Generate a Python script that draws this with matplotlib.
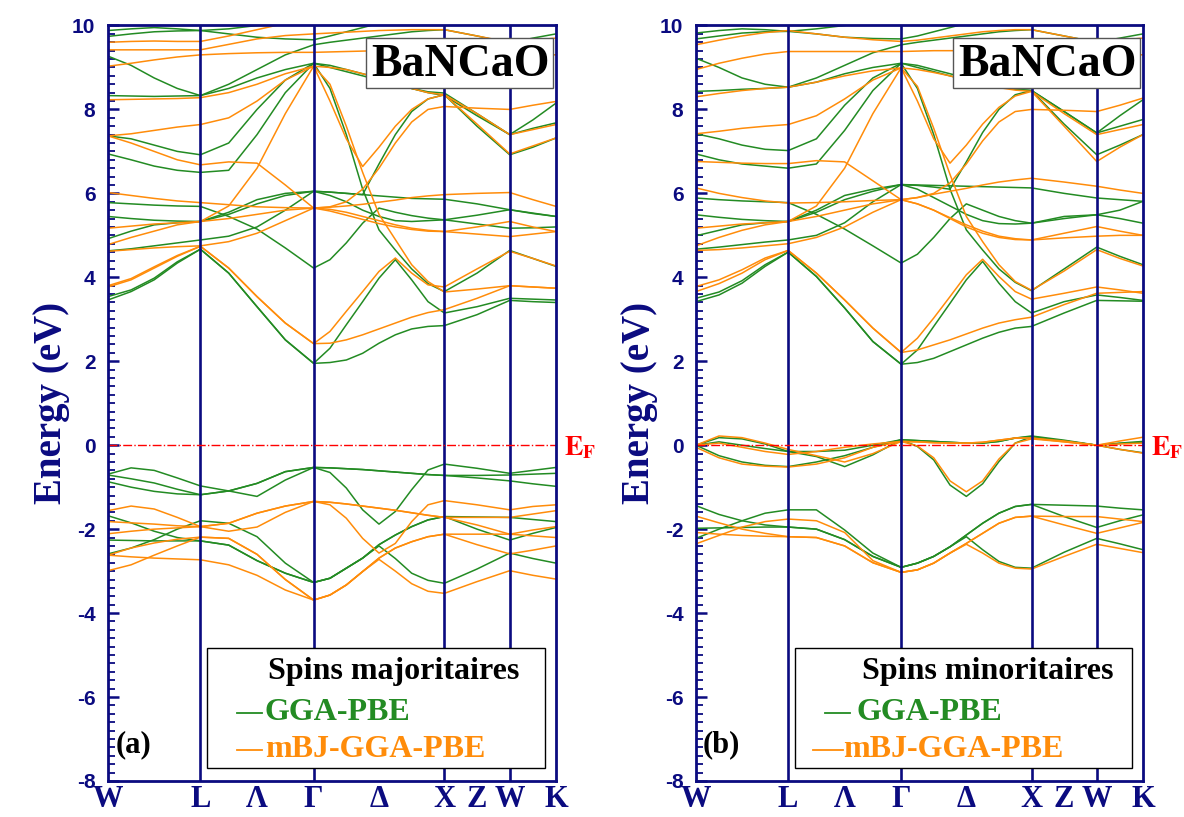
import matplotlib.pyplot as plt
import numpy as np
from matplotlib.patches import Rectangle
from matplotlib.ticker import MultipleLocator

plt.rcParams['font.family'] = ['Liberation Serif', 'DejaVu Serif']
plt.rcParams['mathtext.fontset'] = 'stix'
plt.rcParams['axes.unicode_minus'] = False

# chemin W-L-Γ-X-W-K (distances en 2π/a) et nombre de pas par segment
k_nodes = [0.0, 0.707, 1.573, 2.573, 3.073, 3.427]
k_steps = [4, 4, 8, 2, 2]
k_tick_pos = [0.0, 0.707, 1.140, 1.573, 2.073, 2.573, 2.823, 3.073, 3.427]
k_tick_lab = ['W', 'L', 'Λ', 'Γ', 'Δ', 'X', 'Z', 'W', 'K']

# ---- spins majoritaires : GGA-PBE (énergies en eV sur la grille k) ----
maj_gga = [
    [-0.69, -0.54, -0.60, -0.78, -0.97, -1.09, -1.22, -0.83, -0.53, -0.65, -1.02, -1.54, -1.88, -1.58, -1.06, -0.59, -0.45, -0.55, -0.67, -0.60, -0.53],
    [-0.71, -0.80, -0.90, -1.05, -1.18, -1.09, -0.91, -0.63, -0.53, -0.54, -0.56, -0.58, -0.61, -0.64, -0.67, -0.70, -0.72, -0.72, -0.71, -0.69, -0.67],
    [-0.87, -1.00, -1.10, -1.16, -1.18, -1.09, -0.91, -0.63, -0.53, -0.54, -0.56, -0.58, -0.61, -0.64, -0.67, -0.70, -0.72, -0.78, -0.85, -0.92, -0.98],
    [-1.68, -1.85, -2.05, -2.20, -2.28, -2.38, -2.75, -3.05, -3.27, -3.17, -2.93, -2.69, -2.37, -2.14, -1.94, -1.78, -1.70, -1.71, -1.72, -1.77, -1.82],
    [-2.59, -2.45, -2.25, -2.00, -1.80, -1.86, -2.18, -2.81, -3.27, -3.17, -2.93, -2.69, -2.37, -2.14, -1.94, -1.78, -1.70, -2.00, -2.26, -2.10, -1.96],
    [-2.26, -2.27, -2.28, -2.28, -2.28, -2.38, -2.75, -3.05, -3.27, -3.17, -2.93, -2.69, -2.40, -2.70, -3.05, -3.22, -3.29, -2.95, -2.57, -2.70, -2.81],
    [3.46, 3.66, 3.94, 4.34, 4.67, 4.10, 3.30, 2.51, 1.95, 1.97, 2.03, 2.19, 2.43, 2.63, 2.77, 2.83, 2.85, 3.11, 3.45, 3.42, 3.40],
    [3.54, 3.70, 3.98, 4.37, 4.67, 4.10, 3.30, 2.51, 1.95, 2.31, 2.87, 3.42, 3.98, 4.42, 3.94, 3.42, 3.15, 3.30, 3.50, 3.48, 3.46],
    [4.63, 4.68, 4.75, 4.82, 4.89, 4.98, 5.20, 5.60, 6.05, 6.03, 6.00, 5.97, 5.94, 5.91, 5.88, 5.87, 5.86, 5.75, 5.61, 5.52, 5.45],
    [5.78, 5.75, 5.72, 5.70, 5.69, 5.45, 5.15, 4.70, 4.22, 4.42, 4.82, 5.29, 5.65, 5.55, 5.47, 5.41, 5.37, 5.27, 5.17, 5.18, 5.20],
    [4.92, 5.10, 5.25, 5.30, 5.33, 5.50, 5.75, 5.95, 6.05, 5.95, 5.80, 5.60, 5.45, 5.35, 5.33, 5.35, 5.37, 5.48, 5.61, 5.53, 5.45],
    [5.45, 5.40, 5.36, 5.34, 5.33, 5.55, 5.85, 6.00, 6.05, 6.03, 6.00, 5.97, 6.70, 7.40, 7.95, 8.25, 8.35, 7.60, 6.92, 7.10, 7.32],
    [6.94, 6.80, 6.65, 6.55, 6.50, 6.55, 7.40, 8.40, 9.10, 8.50, 7.40, 6.10, 5.13, 4.65, 4.20, 3.85, 3.66, 4.10, 4.64, 4.45, 4.26],
    [7.37, 7.30, 7.15, 7.00, 6.92, 7.20, 8.00, 8.70, 9.10, 9.00, 8.90, 8.80, 8.70, 8.60, 8.50, 8.42, 8.39, 7.90, 7.40, 7.55, 7.68],
    [8.33, 8.32, 8.31, 8.32, 8.33, 8.50, 8.75, 8.95, 9.10, 9.05, 8.95, 8.85, 8.75, 8.62, 8.50, 8.40, 8.33, 7.85, 7.40, 7.75, 8.15],
    [9.27, 9.05, 8.75, 8.50, 8.33, 8.60, 8.95, 9.30, 9.54, 9.60, 9.65, 9.70, 9.75, 9.80, 9.85, 9.88, 9.90, 9.75, 9.58, 9.70, 9.80],
    [9.74, 9.80, 9.85, 9.87, 9.88, 9.80, 9.72, 9.68, 9.66, 9.75, 9.85, 9.95, 10.05, 10.1, 10.15, 10.2, 10.2, 10.1, 10.0, 10.1, 10.2],
    [9.88, 9.92, 9.95, 9.92, 9.88, 9.92, 10.0, 10.1, 10.2, 10.3, 10.3, 10.3, 10.3, 10.3, 10.3, 10.3, 10.3, 10.2, 10.1, 10.1, 10.1],
]

# ---- spins majoritaires : mBJ-GGA-PBE ----
maj_mbj = [
    [-1.56, -1.45, -1.52, -1.72, -1.94, -2.05, -1.95, -1.60, -1.34, -1.42, -1.74, -2.22, -2.57, -2.34, -1.82, -1.42, -1.32, -1.42, -1.54, -1.46, -1.42],
    [-1.82, -1.85, -1.88, -1.92, -1.94, -1.86, -1.62, -1.45, -1.34, -1.36, -1.40, -1.45, -1.50, -1.55, -1.61, -1.67, -1.72, -1.72, -1.72, -1.64, -1.56],
    [-2.11, -2.05, -2.00, -1.97, -1.94, -1.86, -1.62, -1.45, -1.34, -1.36, -1.40, -1.45, -1.50, -1.55, -1.61, -1.67, -1.72, -1.90, -2.12, -2.16, -2.20],
    [-2.62, -2.45, -2.33, -2.24, -2.19, -2.22, -2.60, -3.20, -3.69, -3.57, -3.33, -3.01, -2.69, -2.45, -2.30, -2.18, -2.12, -2.12, -2.12, -2.02, -1.94],
    [-2.99, -2.85, -2.62, -2.40, -2.19, -2.22, -2.60, -3.20, -3.69, -3.57, -3.33, -3.01, -2.69, -2.45, -2.30, -2.18, -2.12, -2.37, -2.59, -2.50, -2.40],
    [-2.62, -2.66, -2.69, -2.71, -2.73, -2.85, -3.10, -3.45, -3.69, -3.57, -3.33, -3.01, -2.72, -3.00, -3.30, -3.48, -3.53, -3.25, -2.99, -3.10, -3.19],
    [3.77, 3.94, 4.22, 4.50, 4.74, 4.22, 3.54, 2.91, 2.42, 2.43, 2.51, 2.63, 2.77, 2.91, 3.05, 3.16, 3.23, 3.50, 3.80, 3.77, 3.74],
    [3.80, 3.97, 4.25, 4.52, 4.74, 4.22, 3.54, 2.91, 2.42, 2.71, 3.19, 3.66, 4.14, 4.46, 4.10, 3.82, 3.77, 4.20, 4.62, 4.45, 4.27],
    [4.62, 4.66, 4.70, 4.73, 4.75, 4.85, 5.05, 5.35, 5.65, 5.67, 5.70, 5.74, 5.79, 5.84, 5.90, 5.94, 5.97, 6.00, 6.02, 5.85, 5.69],
    [4.78, 4.95, 5.10, 5.25, 5.33, 5.40, 5.50, 5.60, 5.65, 5.62, 5.55, 5.45, 5.35, 5.25, 5.17, 5.12, 5.09, 5.20, 5.33, 5.20, 5.09],
    [5.17, 5.22, 5.27, 5.30, 5.33, 5.70, 6.60, 7.90, 9.03, 8.60, 7.60, 6.50, 5.50, 4.90, 4.30, 3.90, 3.65, 3.72, 3.80, 3.77, 3.74],
    [6.02, 5.95, 5.88, 5.82, 5.78, 5.73, 5.68, 5.66, 5.65, 5.58, 5.48, 5.38, 5.28, 5.20, 5.14, 5.10, 5.09, 5.03, 4.97, 5.03, 5.09],
    [7.37, 7.20, 7.00, 6.80, 6.68, 6.75, 6.72, 6.20, 5.65, 5.68, 5.80, 6.10, 6.60, 7.20, 7.70, 8.00, 8.07, 8.03, 8.00, 8.10, 8.19],
    [7.37, 7.42, 7.50, 7.58, 7.64, 7.80, 8.20, 8.70, 9.03, 8.20, 7.30, 6.64, 7.10, 7.60, 8.00, 8.25, 8.35, 7.90, 7.40, 7.52, 7.64],
    [8.23, 8.24, 8.25, 8.26, 8.28, 8.40, 8.60, 8.85, 9.03, 9.00, 8.95, 8.85, 8.75, 8.62, 8.50, 8.40, 8.35, 7.65, 6.94, 7.13, 7.32],
    [9.03, 9.10, 9.18, 9.25, 9.30, 9.33, 9.35, 9.36, 9.36, 9.37, 9.38, 9.39, 9.40, 9.40, 9.40, 9.40, 9.40, 9.38, 9.35, 9.32, 9.30],
    [9.42, 9.42, 9.42, 9.42, 9.42, 9.55, 9.68, 9.76, 9.80, 9.82, 9.84, 9.86, 9.88, 9.89, 9.90, 9.90, 9.90, 9.75, 9.60, 9.65, 9.70],
    [9.60, 9.62, 9.63, 9.62, 9.62, 9.75, 9.90, 10.05, 10.2, 10.3, 10.3, 10.3, 10.3, 10.3, 10.3, 10.3, 10.3, 10.2, 10.1, 10.1, 10.1],
]

# ---- spins minoritaires : GGA-PBE ----
min_gga = [
    [0.00, 0.18, 0.15, 0.03, -0.15, -0.27, -0.51, -0.23, 0.13, 0.11, 0.09, 0.07, 0.05, 0.05, 0.09, 0.17, 0.22, 0.12, 0.00, 0.05, 0.09],
    [0.00, 0.08, 0.00, -0.08, -0.15, -0.15, -0.12, 0.00, 0.13, -0.03, -0.35, -0.95, -1.22, -0.92, -0.39, 0.05, 0.20, 0.10, 0.00, 0.04, 0.07],
    [0.00, -0.25, -0.40, -0.48, -0.51, -0.40, -0.25, -0.05, 0.13, 0.11, 0.09, 0.07, 0.05, 0.05, 0.09, 0.17, 0.20, 0.10, 0.00, -0.10, -0.18],
    [-1.44, -1.65, -1.80, -1.90, -1.95, -2.00, -2.25, -2.65, -2.91, -2.81, -2.65, -2.42, -2.14, -1.86, -1.62, -1.46, -1.41, -1.43, -1.45, -1.50, -1.54],
    [-2.22, -2.00, -1.80, -1.62, -1.54, -1.54, -2.02, -2.57, -2.91, -2.81, -2.65, -2.42, -2.14, -1.86, -1.62, -1.46, -1.41, -1.70, -1.96, -1.80, -1.66],
    [-1.98, -1.97, -1.96, -1.95, -1.95, -2.00, -2.25, -2.65, -2.91, -2.81, -2.65, -2.42, -2.18, -2.49, -2.77, -2.91, -2.93, -2.55, -2.22, -2.35, -2.49],
    [3.42, 3.58, 3.86, 4.26, 4.60, 4.02, 3.27, 2.47, 1.93, 1.97, 2.07, 2.23, 2.39, 2.55, 2.69, 2.79, 2.83, 3.15, 3.45, 3.44, 3.43],
    [3.50, 3.65, 3.92, 4.30, 4.60, 4.02, 3.27, 2.47, 1.93, 2.27, 2.83, 3.38, 3.94, 4.38, 3.86, 3.42, 3.15, 3.42, 3.58, 3.52, 3.45],
    [4.67, 4.72, 4.78, 4.84, 4.89, 5.00, 5.30, 5.80, 6.21, 6.20, 6.19, 6.18, 6.17, 6.16, 6.15, 6.14, 6.13, 6.00, 5.89, 5.85, 5.81],
    [5.89, 5.85, 5.82, 5.80, 5.78, 5.50, 5.15, 4.75, 4.34, 4.55, 4.95, 5.40, 5.75, 5.60, 5.45, 5.35, 5.29, 5.40, 5.49, 5.40, 5.29],
    [4.99, 5.12, 5.25, 5.30, 5.33, 5.55, 5.85, 6.05, 6.21, 6.10, 5.90, 5.70, 5.50, 5.35, 5.28, 5.27, 5.29, 5.45, 5.49, 5.60, 5.81],
    [5.49, 5.43, 5.38, 5.35, 5.33, 5.60, 5.95, 6.10, 6.21, 6.19, 6.15, 6.10, 6.75, 7.45, 8.00, 8.35, 8.45, 7.65, 6.92, 7.15, 7.40],
    [6.94, 6.80, 6.70, 6.65, 6.60, 6.70, 7.50, 8.45, 9.10, 8.50, 7.40, 6.10, 5.13, 4.65, 4.20, 3.88, 3.68, 4.20, 4.72, 4.50, 4.30],
    [7.42, 7.30, 7.15, 7.05, 7.02, 7.30, 8.10, 8.75, 9.10, 9.00, 8.90, 8.80, 8.70, 8.62, 8.55, 8.48, 8.45, 7.95, 7.44, 7.60, 7.76],
    [8.43, 8.45, 8.48, 8.50, 8.53, 8.65, 8.85, 9.00, 9.10, 9.05, 8.95, 8.85, 8.75, 8.65, 8.55, 8.48, 8.45, 7.95, 7.44, 7.85, 8.23],
    [9.22, 9.00, 8.75, 8.60, 8.53, 8.75, 9.05, 9.35, 9.54, 9.60, 9.65, 9.70, 9.75, 9.80, 9.85, 9.88, 9.90, 9.75, 9.60, 9.70, 9.80],
    [9.68, 9.75, 9.82, 9.85, 9.86, 9.80, 9.72, 9.69, 9.68, 9.75, 9.85, 9.95, 10.05, 10.1, 10.15, 10.2, 10.2, 10.1, 10.0, 10.1, 10.2],
    [9.82, 9.88, 9.92, 9.90, 9.86, 9.92, 10.0, 10.1, 10.2, 10.3, 10.3, 10.3, 10.3, 10.3, 10.3, 10.3, 10.3, 10.2, 10.1, 10.1, 10.1],
]

# ---- spins minoritaires : mBJ-GGA-PBE ----
min_mbj = [
    [0.00, 0.22, 0.18, 0.05, -0.10, -0.25, -0.40, -0.20, 0.09, 0.08, 0.06, 0.05, 0.05, 0.07, 0.12, 0.17, 0.17, 0.10, 0.00, 0.10, 0.19],
    [0.00, 0.05, -0.05, -0.15, -0.22, -0.15, -0.05, 0.03, 0.09, -0.02, -0.30, -0.85, -1.11, -0.85, -0.33, 0.05, 0.15, 0.08, 0.00, 0.03, 0.05],
    [-0.05, -0.30, -0.45, -0.50, -0.52, -0.45, -0.30, -0.05, 0.09, 0.08, 0.06, 0.05, 0.05, 0.07, 0.12, 0.17, 0.17, 0.08, 0.00, -0.10, -0.19],
    [-1.69, -1.85, -2.00, -2.10, -2.18, -2.20, -2.40, -2.80, -3.03, -2.97, -2.81, -2.57, -2.34, -2.10, -1.86, -1.72, -1.69, -1.70, -1.70, -1.76, -1.82],
    [-2.35, -2.15, -1.95, -1.82, -1.76, -1.80, -2.08, -2.75, -3.03, -2.97, -2.81, -2.57, -2.34, -2.10, -1.86, -1.72, -1.69, -1.90, -2.10, -1.97, -1.84],
    [-2.08, -2.12, -2.15, -2.17, -2.18, -2.20, -2.40, -2.80, -3.03, -2.97, -2.81, -2.57, -2.36, -2.57, -2.81, -2.93, -2.95, -2.65, -2.36, -2.46, -2.56],
    [3.66, 3.85, 4.10, 4.42, 4.64, 4.10, 3.46, 2.79, 2.21, 2.27, 2.39, 2.51, 2.65, 2.79, 2.91, 2.99, 3.05, 3.35, 3.62, 3.64, 3.66],
    [3.78, 3.94, 4.18, 4.46, 4.64, 4.10, 3.46, 2.79, 2.21, 2.55, 3.03, 3.54, 4.06, 4.43, 4.02, 3.66, 3.48, 3.62, 3.77, 3.70, 3.62],
    [4.64, 4.66, 4.70, 4.75, 4.80, 4.95, 5.20, 5.55, 5.85, 5.90, 5.98, 6.05, 6.12, 6.20, 6.27, 6.32, 6.36, 6.27, 6.17, 6.08, 6.00],
    [4.75, 4.95, 5.12, 5.25, 5.33, 5.45, 5.60, 5.75, 5.85, 5.75, 5.60, 5.40, 5.20, 5.05, 4.95, 4.90, 4.89, 5.05, 5.21, 5.10, 5.00],
    [5.17, 5.22, 5.27, 5.30, 5.33, 5.70, 6.60, 7.90, 8.99, 8.55, 7.55, 6.45, 5.45, 4.85, 4.30, 3.90, 3.69, 4.15, 4.66, 4.45, 4.27],
    [6.13, 6.00, 5.90, 5.82, 5.77, 5.78, 5.80, 5.83, 5.85, 5.75, 5.60, 5.42, 5.25, 5.10, 4.98, 4.92, 4.89, 4.94, 4.98, 5.00, 5.00],
    [6.76, 6.74, 6.72, 6.71, 6.71, 6.78, 6.75, 6.30, 5.85, 5.90, 6.00, 6.25, 6.70, 7.25, 7.70, 7.95, 8.00, 7.98, 7.95, 8.10, 8.27],
    [7.42, 7.48, 7.55, 7.60, 7.64, 7.85, 8.25, 8.70, 8.99, 8.20, 7.30, 6.72, 7.15, 7.65, 8.05, 8.32, 8.43, 7.90, 7.40, 7.52, 7.64],
    [8.30, 8.38, 8.45, 8.50, 8.53, 8.65, 8.80, 8.92, 8.99, 8.95, 8.88, 8.80, 8.70, 8.60, 8.52, 8.46, 8.43, 7.60, 6.76, 7.10, 7.40],
    [8.95, 9.10, 9.22, 9.32, 9.38, 9.38, 9.38, 9.38, 9.38, 9.39, 9.40, 9.40, 9.40, 9.40, 9.40, 9.40, 9.40, 9.38, 9.35, 9.32, 9.30],
    [9.54, 9.65, 9.75, 9.83, 9.88, 9.80, 9.72, 9.66, 9.62, 9.65, 9.70, 9.75, 9.80, 9.85, 9.88, 9.90, 9.90, 9.75, 9.60, 9.65, 9.70],
]

NAVY = '#0b0b80'
GREEN = '#238b23'
ORANGE = '#ff8c0a'


def k_grid():
    k = [k_nodes[0]]
    for a, b, n in zip(k_nodes[:-1], k_nodes[1:], k_steps):
        k.extend(np.linspace(a, b, n + 1)[1:])
    return np.array(k)


def draw_panel(ax, gga, mbj, titre, tag, leg_x):
    # leg_x : (début titre, trait GGA, texte GGA, trait mBJ, texte mBJ) en fraction d'axe
    k = k_grid()
    for e in gga:
        ax.plot(k, e, color=GREEN, lw=1.1)
    for e in mbj:
        ax.plot(k, e, color=ORANGE, lw=1.1)

    for kn in k_nodes[1:-1]:
        ax.axvline(kn, color=NAVY, lw=1.9)
    ax.axhline(0, color='red', ls='-.', lw=1.0)

    ax.set_xlim(k_nodes[0], k_nodes[-1])
    ax.set_ylim(-8, 10)
    ax.set_xticks(k_tick_pos)
    ax.set_xticklabels(k_tick_lab, fontsize=22, fontweight='bold', color=NAVY)
    ax.tick_params(axis='x', length=0, pad=3)
    ax.yaxis.set_major_locator(MultipleLocator(2))
    ax.yaxis.set_minor_locator(MultipleLocator(0.2))
    ax.tick_params(axis='y', which='major', direction='in', length=8, width=1.8,
                   color=NAVY, labelcolor=NAVY, labelsize=15, pad=9)
    ax.tick_params(axis='y', which='minor', direction='in', length=5, width=1.3, color=NAVY)
    for lab in ax.get_yticklabels():
        lab.set_fontweight('bold')
        lab.set_family(['Liberation Sans', 'DejaVu Sans'])
    for sp in ax.spines.values():
        sp.set_color(NAVY)
        sp.set_linewidth(2.0)
    ax.set_ylabel('Energy (eV)', fontsize=28, fontweight='bold', color=NAVY)
    ax.yaxis.set_label_coords(-0.085, 0.5)

    # étiquette du niveau de Fermi
    ax.text(1.018, -0.05, r'$\mathbf{E_F}$', transform=ax.get_yaxis_transform(),
            color='red', fontsize=20, va='center', ha='left')

    # cadre BaNCaO
    ax.add_patch(Rectangle((0.576, 0.917), 0.418, 0.066, transform=ax.transAxes,
                           facecolor='white', edgecolor='#555555', lw=1.0, zorder=5))
    ax.text(0.787, 0.948, 'BaNCaO', transform=ax.transAxes, fontsize=33,
            fontweight='bold', ha='center', va='center', zorder=6)

    # légende
    t0, g_line, g_txt, m_line, m_txt = leg_x
    ax.add_patch(Rectangle((0.222, 0.017), 0.753, 0.159, transform=ax.transAxes,
                           facecolor='white', edgecolor='black', lw=1.0, zorder=5))
    ax.text(t0, 0.145, titre, transform=ax.transAxes, fontsize=23,
            fontweight='bold', ha='left', va='center', zorder=6)
    ax.plot(g_line, [0.090, 0.090], transform=ax.transAxes, color=GREEN, lw=1.3, zorder=6)
    ax.text(g_txt, 0.090, 'GGA-PBE', transform=ax.transAxes, fontsize=23,
            fontweight='bold', color=GREEN, ha='left', va='center', zorder=6)
    ax.plot(m_line, [0.041, 0.041], transform=ax.transAxes, color=ORANGE, lw=1.3, zorder=6)
    ax.text(m_txt, 0.041, 'mBJ-GGA-PBE', transform=ax.transAxes, fontsize=23,
            fontweight='bold', color=ORANGE, ha='left', va='center', zorder=6)
    ax.text(0.057, 0.048, tag, transform=ax.transAxes, fontsize=22,
            fontweight='bold', ha='center', va='center', zorder=6)


fig = plt.figure(figsize=(11.84, 8.17), dpi=100)
ax1 = fig.add_axes([0.0912, 0.0441, 0.3784, 0.9247])
ax2 = fig.add_axes([0.5878, 0.0441, 0.3775, 0.9247])

draw_panel(ax1, maj_gga, maj_mbj, 'Spins majoritaires', '(a)',
           (0.357, [0.288, 0.344], 0.350, [0.288, 0.344], 0.350))
draw_panel(ax2, min_gga, min_mbj, 'Spins minoritaires', '(b)',
           (0.371, [0.289, 0.345], 0.360, [0.262, 0.330], 0.330))

fig.savefig('out.png', dpi=100)
